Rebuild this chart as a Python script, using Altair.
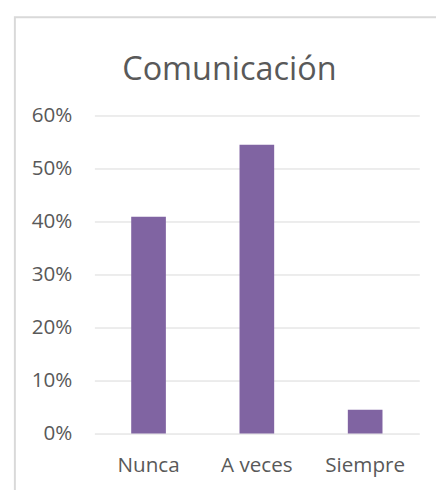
import altair as alt
import pandas as pd

categories = ["Nunca", "A veces", "Siempre"]
values = [0.409, 0.545, 0.045]
y_ticks = [0.0, 0.1, 0.2, 0.3, 0.4, 0.5, 0.6]
title_text = "Comunicación"

df = pd.DataFrame({"cat": categories, "val": values})

FONT = "Open Sans"
GRAY = "#595959"

border = alt.Chart(alt.Data(values=[{"k": 1}])).mark_rect(
    fill="transparent", stroke="#d9d9d9", strokeWidth=2
).encode(
    x=alt.value(-81), y=alt.value(-100), x2=alt.value(700), y2=alt.value(700)
)

title = alt.Chart(alt.Data(values=[{"t": title_text}])).mark_text(
    font=FONT, fontSize=33, color=GRAY, align="center", baseline="alphabetic"
).encode(
    text="t:N", x=alt.value(137.5), y=alt.value(-36)
)

bars = alt.Chart(df).mark_bar(color="#8064A2").encode(
    x=alt.X("cat:N", sort=categories,
            scale=alt.Scale(paddingInner=0.68, paddingOuter=0.34),
            axis=alt.Axis(title=None, labelAngle=0, domain=False, ticks=False,
                          labelFont=FONT, labelFontSize=21, labelColor=GRAY,
                          labelPadding=22)),
    y=alt.Y("val:Q", scale=alt.Scale(domain=[0, 0.6], nice=False),
            axis=alt.Axis(title=None, values=y_ticks, format=".0%", domain=False,
                          ticks=False, grid=True, gridColor="#d9d9d9", gridWidth=1,
                          labelFont=FONT, labelFontSize=21, labelColor=GRAY,
                          labelPadding=23)),
)

chart = alt.layer(border, bars, title).properties(
    width=331,
    height=324,
    padding={"left": 88, "top": 105, "right": 17, "bottom": 53},
    autosize=alt.AutoSizeParams(type="none"),
).configure_view(stroke=None)

chart.save("out.html", embed_options={"renderer": "svg", "actions": False})
